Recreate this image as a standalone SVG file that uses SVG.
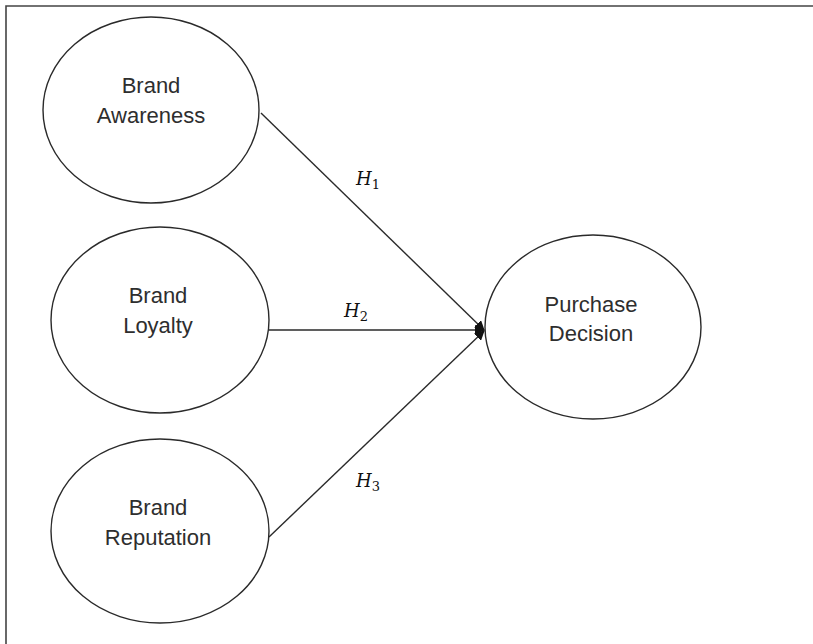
<svg xmlns="http://www.w3.org/2000/svg" width="813" height="644" viewBox="0 0 813 644">
  <style>
    .node ellipse { fill: #ffffff; stroke: #2a2a2a; stroke-width: 1.4; }
    .node text { font-family: "Liberation Sans", Arial, sans-serif; font-size: 22px; fill: #2e2e2e; text-anchor: middle; }
    .edge { stroke: #2a2a2a; stroke-width: 1.4; fill: none; marker-end: url(#arrow); }
    .hyp { font-family: "DejaVu Serif", "Liberation Serif", serif; font-style: italic; font-size: 18px; fill: #111; }
    .hyp tspan.sub { font-size: 13px; font-style: normal; }
  </style>
  <defs>
    <marker id="arrow" markerUnits="userSpaceOnUse" markerWidth="10" markerHeight="10" refX="9" refY="5" orient="auto">
      <path d="M0,0 L10,5 L0,10 Z" fill="#111"/>
    </marker>
  </defs>

  <rect x="0" y="0" width="813" height="644" fill="#ffffff"/>
  <!-- frame: top and left edges only -->
  <path d="M6,644 L6,6 L813,6" fill="none" stroke="#444" stroke-width="1.6"/>

  <g id="connectors">
    <line class="edge" x1="261" y1="113" x2="484" y2="330"/>
    <line class="edge" x1="269" y1="330" x2="484" y2="330"/>
    <line class="edge" x1="269" y1="537" x2="484" y2="331"/>
  </g>

  <g id="labels">
    <text class="hyp" x="356" y="185">H<tspan class="sub" dy="4">1</tspan></text>
    <text class="hyp" x="344" y="317">H<tspan class="sub" dy="4">2</tspan></text>
    <text class="hyp" x="356" y="487">H<tspan class="sub" dy="4">3</tspan></text>
  </g>

  <g id="brand-awareness" class="node">
    <ellipse cx="151" cy="110" rx="108" ry="93"/>
    <text x="151" y="93">Brand</text>
    <text x="151" y="123">Awareness</text>
  </g>

  <g id="brand-loyalty" class="node">
    <ellipse cx="160" cy="320" rx="109" ry="93"/>
    <text x="158" y="303">Brand</text>
    <text x="158" y="333">Loyalty</text>
  </g>

  <g id="brand-reputation" class="node">
    <ellipse cx="160" cy="531" rx="109" ry="92"/>
    <text x="158" y="515">Brand</text>
    <text x="158" y="545">Reputation</text>
  </g>

  <g id="purchase-decision" class="node">
    <ellipse cx="593" cy="327" rx="108" ry="92"/>
    <text x="591" y="312">Purchase</text>
    <text x="591" y="341">Decision</text>
  </g>
</svg>
